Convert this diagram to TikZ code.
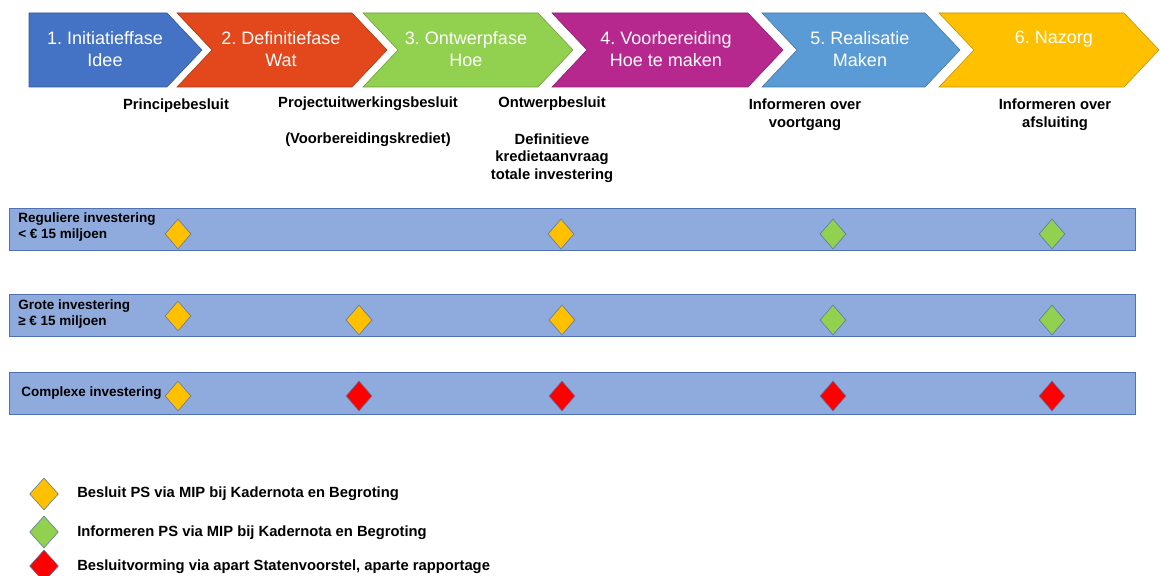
\documentclass[tikz,border=0pt]{standalone}
\usepackage{fontspec}
\setmainfont{Liberation Sans}
\usetikzlibrary{shapes.geometric}
\frenchspacing

\definecolor{faseEen}{HTML}{4472C4}
\definecolor{faseTwee}{HTML}{E2481C}
\definecolor{faseDrie}{HTML}{92D050}
\definecolor{faseVier}{HTML}{B7288F}
\definecolor{faseVijf}{HTML}{5B9BD5}
\definecolor{faseZes}{HTML}{FFC000}
\definecolor{bandvul}{HTML}{8FAADC}
\definecolor{bandrand}{HTML}{4F71B0}
\definecolor{ruitgeel}{HTML}{FFC000}
\definecolor{ruitgroen}{HTML}{92D050}
\definecolor{ruitrood}{HTML}{FF0000}

\begin{document}
\begin{tikzpicture}[x=0.025cm,y=-0.025cm,
    fase/.style={draw=#1!75!black,fill=#1,line width=0.4pt},
    fasetext/.style={font=\fontsize{12.8}{15.6}\selectfont,text=white,align=center,inner sep=0pt},
    besluit/.style={font=\bfseries\fontsize{10.5}{12.6}\selectfont,align=center,inner sep=0pt},
    band/.style={draw=bandrand,fill=bandvul,line width=0.5pt,minimum width=28.15cm,minimum height=1.05cm,inner sep=0pt},
    rij/.style={font=\bfseries\fontsize{9.6}{12}\selectfont,align=left,anchor=west,inner sep=0pt},
    ruit/.style={diamond,draw=bandrand!80!gray,line width=0.4pt,fill=#1,inner sep=0pt,minimum width=0.65cm,minimum height=0.75cm},
    legruit/.style={ruit=#1,minimum width=0.72cm,minimum height=0.8cm},
    legtext/.style={font=\bfseries\fontsize{10.5}{12.6}\selectfont,anchor=west,inner sep=0pt}
]
\useasboundingbox (0,0) rectangle (1160,576);

\draw[fase=faseEen] (29,13) -- (167,13) -- (202,50) -- (167,87) -- (29,87) -- cycle;
\draw[fase=faseTwee] (177,13) -- (352,13) -- (387,50) -- (352,87) -- (177,87) -- (212,50) -- cycle;
\draw[fase=faseDrie] (363,13) -- (538,13) -- (573,50) -- (538,87) -- (363,87) -- (398,50) -- cycle;
\draw[fase=faseVier] (552,13) -- (748,13) -- (783,50) -- (748,87) -- (552,87) -- (587,50) -- cycle;
\draw[fase=faseVijf] (762,13) -- (925,13) -- (960,50) -- (925,87) -- (762,87) -- (797,50) -- cycle;
\draw[fase=faseZes] (939,13) -- (1124,13) -- (1159,50) -- (1124,87) -- (939,87) -- (974,50) -- cycle;

\node[fasetext] (initiatie) at (105,49) {1. Initiatieffase\\Idee};
\node[fasetext] (definitie) at (281,49) {2. Definitiefase\\Wat};
\node[fasetext] (ontwerp) at (466,49) {3. Ontwerpfase\\Hoe};
\node[fasetext] (voorbereiding) at (666,49) {4. Voorbereiding\\Hoe te maken};
\node[fasetext] (realisatie) at (860,49) {5. Realisatie\\Maken};
\node[fasetext] (nazorg) at (1054,39) {6. Nazorg};

\node[besluit] (principe) at (176,106) {Principebesluit};
\node[besluit] (projectuitw) at (368,104) {Projectuitwerkingsbesluit};
\node[besluit] (krediet) at (368,140) {(Voorbereidingskrediet)};
\node[besluit] (ontwerpb) at (552,104) {Ontwerpbesluit};
\node[besluit] (definitief) at (552,158) {Definitieve\\kredietaanvraag\\totale investering};
\node[besluit] (voortgang) at (805,115) {Informeren over\\voortgang};
\node[besluit] (afsluiting) at (1055,115) {Informeren over\\afsluiting};

\node[band] (regulier) at (572,229) {};
\node[band] (groot) at (572,315) {};
\node[band] (complex) at (572,393) {};

\node[rij] (reglabel) at (18,227) {Reguliere investering\\< € 15 miljoen};
\node[rij] (grootlabel) at (18,314) {Grote investering\\≥ € 15 miljoen};
\node[rij] (complexlabel) at (21,393) {Complexe investering};

\node[ruit=ruitgeel] (r1a) at (178,234) {};
\node[ruit=ruitgeel] (r1c) at (561,234) {};
\node[ruit=ruitgroen] (r1d) at (833,234) {};
\node[ruit=ruitgroen] (r1e) at (1052,234) {};

\node[ruit=ruitgeel] (r2a) at (178,316) {};
\node[ruit=ruitgeel] (r2b) at (359,320) {};
\node[ruit=ruitgeel] (r2c) at (562,320) {};
\node[ruit=ruitgroen] (r2d) at (833,320) {};
\node[ruit=ruitgroen] (r2e) at (1052,320) {};

\node[ruit=ruitgeel] (r3a) at (178,396) {};
\node[ruit=ruitrood] (r3b) at (359,396) {};
\node[ruit=ruitrood] (r3c) at (562,396) {};
\node[ruit=ruitrood] (r3d) at (833,396) {};
\node[ruit=ruitrood] (r3e) at (1052,396) {};

\node[legruit=ruitgeel] (leggeel) at (44,494) {};
\node[legruit=ruitgroen] (leggroen) at (44,532) {};
\node[legruit=ruitrood] (legrood) at (44,566) {};
\node[legtext] (besluitps) at (77,494) {Besluit PS via MIP bij Kadernota en Begroting};
\node[legtext] (informerenps) at (77,533) {Informeren PS via MIP bij Kadernota en Begroting};
\node[legtext] (statenvoorstel) at (77,567) {Besluitvorming via apart Statenvoorstel, aparte rapportage};
\end{tikzpicture}
\end{document}
